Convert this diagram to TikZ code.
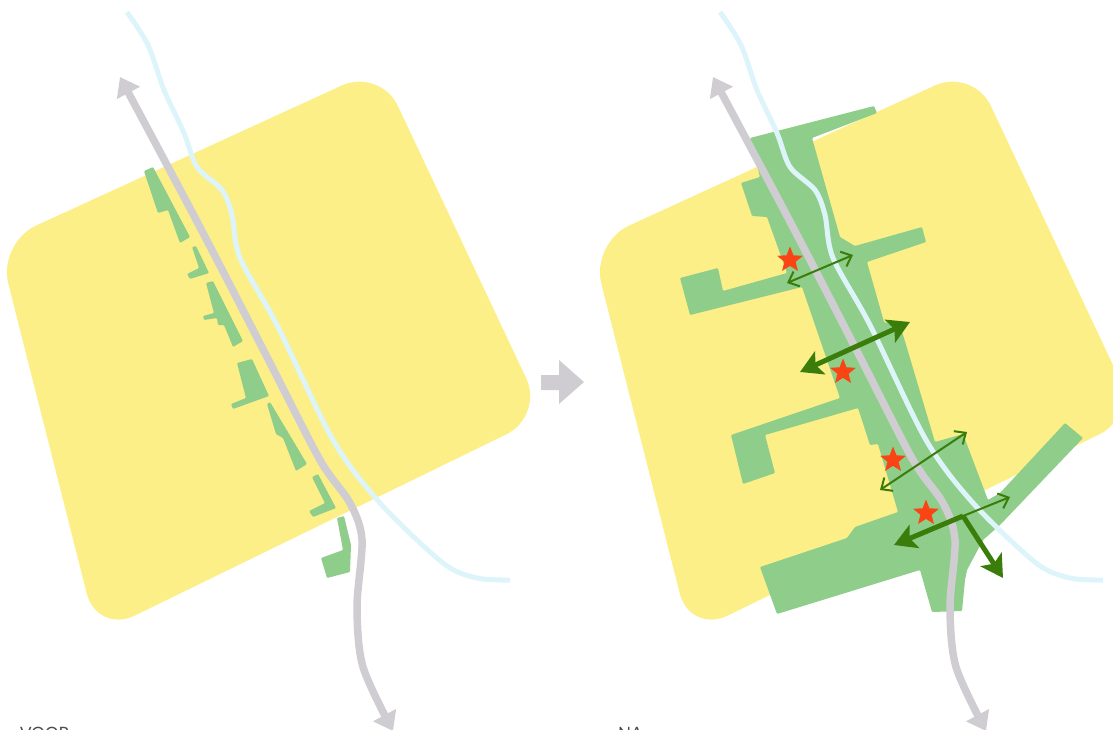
\documentclass[tikz,border=0pt]{standalone}
\usepackage{fontspec}
\setmainfont{Lato}
\usetikzlibrary{arrows.meta,shapes.geometric}
\definecolor{mapyellow}{HTML}{FCEF88}
\definecolor{mapgreen}{HTML}{8FCD8A}
\definecolor{roadgray}{HTML}{CFCDD2}
\definecolor{rivercyan}{HTML}{DDF5FA}
\definecolor{arrowgreen}{HTML}{3A7D0A}
\definecolor{starred}{HTML}{FB4414}
\tikzset{
  mapblock/.style={fill=mapyellow,rounded corners=42pt},
  greenblock/.style={fill=mapgreen,rounded corners=1pt},
  roadline/.style={draw=roadgray,line width=7.5pt,{Triangle[length=18pt,width=25pt]}-{Triangle[length=18pt,width=25pt]}},
  riverline/.style={draw=rivercyan,line width=5pt},
  thinarrow/.style={draw=arrowgreen,line width=2pt,-{Straight Barb[length=9pt,width=16pt]}},
  thinboth/.style={thinarrow,{Straight Barb[length=9pt,width=16pt]}-{Straight Barb[length=9pt,width=16pt]}},
  thickarrow/.style={draw=arrowgreen,line width=5pt,-{Stealth[length=22pt,width=25pt,inset=5pt]}},
  thickboth/.style={thickarrow,{Stealth[length=22pt,width=25pt,inset=5pt]}-{Stealth[length=22pt,width=25pt,inset=5pt]}},
  redstar/.style={star,star points=5,star point ratio=2.3,fill=starred,inner sep=0pt,minimum size=27pt},
  caption/.style={text=black!70,font=\fontsize{17}{17}\selectfont,inner sep=0pt,anchor=base west}
}
\newcommand{\yellowmap}{\path[mapblock](380,68)--(544,416)--(97,634)--(-2,243)--cycle;}
\newcommand{\roadriver}{%
\draw[roadline]plot[smooth,tension=.5]coordinates{(120,77)(203,233)(267,357)(320,460)(350,503)(362,540)(357,607)(363,667)(393,731)};
\path[riverline]plot[smooth,tension=.5]coordinates{(127,12)(148,45)(164,90)(184,133)(197,167)(222,190)(232,215)(240,258)(277,325)(333,440)(380,503)(443,563)(477,578)(510,580)};}
\begin{document}
\begin{tikzpicture}[x=1pt,y=-1pt]
\useasboundingbox(0,0)rectangle(1113,729);\clip(0,0)rectangle(1113,729);
\yellowmap
\path[greenblock](144,171)--(153,167)--(190,237)--(180,243)--(168,210)--(158,213)--cycle;
\path[greenblock](192,247)--(196,246)--(209,273)--(190,279)--(187,274)--(199,268)--cycle;
\path[greenblock](206,283)--(213,281)--(243,341)--(233,347)--(224,325)--(218,325)--(217,318)--(204,320)--(203,316)--(214,313)--cycle;
\path[greenblock](237,363)--(252,359)--(269,396)--(233,409)--(231,404)--(246,398)--cycle;
\path[greenblock](267,404)--(270,402)--(307,464)--(296,471)--(283,438)--(276,434)--cycle;
\path[greenblock](312,477)--(318,474)--(336,508)--(313,517)--(309,511)--(325,503)--cycle;
\path[greenblock](337,518)--(344,516)--(351,545)--(350,572)--(327,578)--(321,558)--(343,550)--cycle;
\roadriver
\path[fill=roadgray](541,375)--(559,375)--(559,360)--(584,382)--(559,404)--(559,390)--(541,390)--cycle;
\begin{scope}[xshift=593pt]
\yellowmap
\end{scope}
\path[greenblock](750,138)--(874,106)--(877,113)--(812,138)--(840,237)--(855,246)--(922,227)--(926,242)--(867,262)--(884,322)--(901,328)--(935,442)--(963,434)--(988,500)--(1000,493)--(1065,423)--(1083,438)--(1000,525)--(983,540)--(967,570)--(965,580)--(962,611)--(932,612)--(920,570)--(777,614)--(760,567)--(847,538)--(855,527)--(898,512)--(878,444)--(870,445)--(858,408)--(765,435)--(775,473)--(743,484)--(731,435)--(840,398)--(802,287)--(690,315)--(680,278)--(718,268)--(723,291)--(787,273)--(767,217)--(752,216)--(741,183)--(760,177)--cycle;
\begin{scope}[xshift=593pt]
\roadriver
\end{scope}
\node[redstar](star1)at(790,260){};\node[redstar](star2)at(843,372){};\node[redstar](star3)at(893,460){};\node[redstar](star4)at(926,513){};
\coordinate(cross1w)at(787,283);\coordinate(cross1e)at(853,255);\coordinate(cross2w)at(800,372);\coordinate(cross2e)at(910,322);
\coordinate(cross3w)at(880,490);\coordinate(cross3e)at(967,432);\coordinate(hub)at(963,516);\coordinate(hubw)at(894,545);\coordinate(hube)at(1010,497);\coordinate(hubs)at(1003,578);
\draw[thinboth](cross1w)--(cross1e);\draw[thinboth](cross3w)--(cross3e);
\draw[thickboth](cross2w)--(cross2e);
\draw[thinarrow](hub)--(hube);
\draw[thickarrow](hub)--(hubw);\draw[thickarrow](hub)--(hubs);
\node[caption](voor)at(20,739){VOOR};\node[caption](na)at(618,739){NA};
\end{tikzpicture}
\end{document}
